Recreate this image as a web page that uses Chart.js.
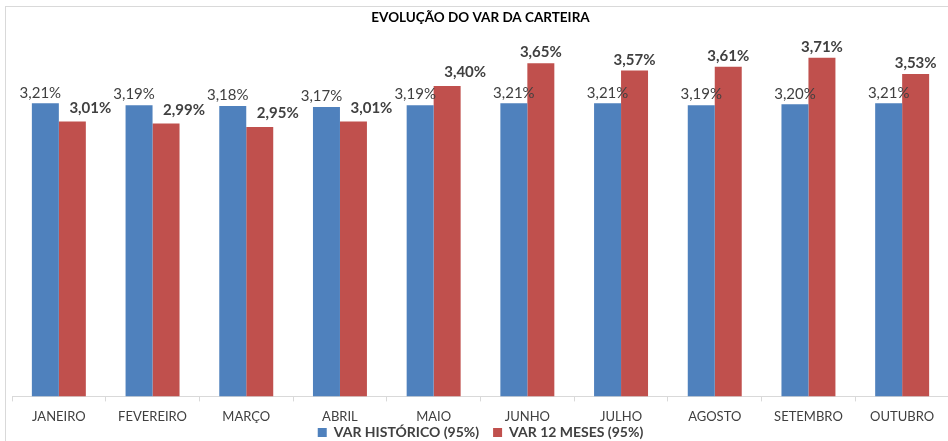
<!DOCTYPE html>
<html>
<head>
<meta charset="utf-8">
<script src="https://cdn.jsdelivr.net/npm/chart.js@4.4.0/dist/chart.umd.min.js"></script>
<style>
    html, body { margin: 0; padding: 0; background: #fff; overflow: hidden; }
    #frame { position: absolute; left: 5px; top: 6px; width: 960px; height: 460px; border: 1px solid #d9d9d9; box-sizing: border-box; }
    #wrap { position: absolute; left: 0; top: 0; width: 960px; height: 451px; }
</style>
</head>
<body>
<div id="frame"></div>
<div id="wrap"><canvas id="varChart"></canvas></div>
<script>
// --- Data ---
const MONTHS = ["JANEIRO", "FEVEREIRO", "MARÇO", "ABRIL", "MAIO", "JUNHO", "JULHO", "AGOSTO", "SETEMBRO", "OUTUBRO"];
const VAR_HISTORICO = [3.21, 3.19, 3.18, 3.17, 3.19, 3.21, 3.21, 3.19, 3.20, 3.21];
const VAR_12_MESES = [3.01, 2.99, 2.95, 3.01, 3.40, 3.65, 3.57, 3.61, 3.71, 3.53];

const TEXT_COLOR = "#404040";
const FONT = "Lato, 'Open Sans', sans-serif";
const LEGEND_PAD = 14;

function fmtPct(v) {
    return v.toFixed(2).replace(".", ",") + "%";
}

// Value labels above each bar + legend placement tweaks
const barLabels = {
    id: "barLabels",
    beforeInit(chart) {
        // keep the legend box short so the plot reaches down like the original
        if (chart.legend) {
            const origFit = chart.legend.fit;
            chart.legend.fit = function () {
                origFit.call(this);
                this.height = 18;
            };
        }
    },
    afterLayout(chart) {
        // pull the legend up under the month labels (box made tall enough not to clip items)
        const lg = chart.legend;
        if (!lg) return;
        lg.top = chart.chartArea.bottom + 15;
        lg.bottom = lg.top + 40;
        lg.height = 40;
    },
    afterDatasetsDraw(chart) {
        const ctx = chart.ctx;
        const blueMeta = chart.getDatasetMeta(0);
        const redMeta = chart.getDatasetMeta(1);
        ctx.save();
        ctx.fillStyle = TEXT_COLOR;
        ctx.textAlign = "center";
        ctx.textBaseline = "bottom";
        blueMeta.data.forEach((bar, i) => {
            const red = redMeta.data[i];
            const close = Math.abs(bar.y - red.y) < 25;
            ctx.font = "15px " + FONT;
            ctx.fillText(fmtPct(VAR_HISTORICO[i]), bar.x - (close ? 5 : 0), bar.y - 3);
            ctx.font = "bold 15px " + FONT;
            ctx.fillText(fmtPct(VAR_12_MESES[i]), red.x + (close ? 18 : 0), red.y - (close ? 6 : 3));
        });
        ctx.restore();
    }
};

const ctx = document.getElementById("varChart").getContext("2d");
new Chart(ctx, {
    type: "bar",
    data: {
        labels: MONTHS,
        datasets: [
            {
                label: "VAR HISTÓRICO (95%)",
                data: VAR_HISTORICO,
                backgroundColor: "#4f81bd",
                borderWidth: 0
            },
            {
                label: "VAR 12 MESES (95%)",
                data: VAR_12_MESES,
                backgroundColor: "#c0504d",
                borderWidth: 0
            }
        ]
    },
    options: {
        responsive: true,
        maintainAspectRatio: false,
        animation: false,
        datasets: {
            bar: { categoryPercentage: 0.576, barPercentage: 1 }
        },
        layout: { padding: { left: 12, right: 11, top: 0, bottom: 0 } },
        plugins: {
            title: {
                display: true,
                text: "EVOLUÇÃO DO VAR DA CARTEIRA",
                color: "#000",
                font: { family: FONT, size: 13.5, weight: "bold", lineHeight: 1.2 },
                padding: { top: 10, bottom: 5 }
            },
            legend: {
                position: "bottom",
                labels: {
                    color: TEXT_COLOR,
                    boxWidth: 9,
                    boxHeight: 9,
                    padding: LEGEND_PAD,
                    font: { family: FONT, size: 14, weight: "bold" }
                }
            },
            tooltip: { enabled: false }
        },
        scales: {
            x: {
                grid: {
                    display: true,
                    drawOnChartArea: false,
                    drawTicks: true,
                    tickLength: 5,
                    color: "#d9d9d9"
                },
                border: { display: true, color: "#d9d9d9" },
                ticks: {
                    color: TEXT_COLOR,
                    padding: 8,
                    maxRotation: 0,
                    font: { family: FONT, size: 13 }
                }
            },
            y: {
                display: false,
                min: 0,
                max: 4
            }
        }
    },
    plugins: [barLabels]
});
</script>
</body>
</html>
